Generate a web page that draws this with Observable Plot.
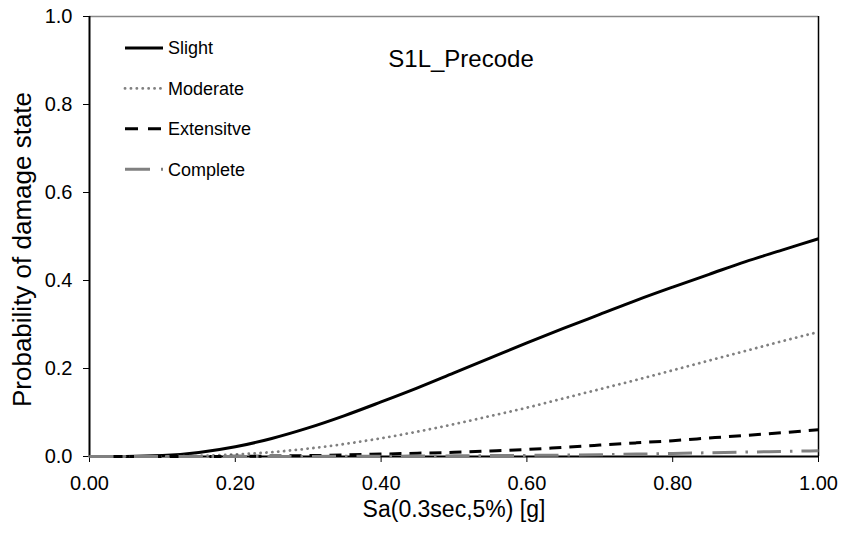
<!DOCTYPE html>
<html>
<head>
<meta charset="utf-8">
<script src="https://cdn.jsdelivr.net/npm/d3@7"></script>
<script src="https://cdn.jsdelivr.net/npm/@observablehq/plot@0.6"></script>
<style>
  html, body { margin: 0; padding: 0; background: #fff; }
  #chart { position: relative; width: 841px; height: 533px; }
  #legend { position: absolute; left: 0; top: 0; pointer-events: none; }
</style>
</head>
<body>
<div id="chart"></div>
<script>
// Spectral acceleration Sa(0.3 s, 5%) in g
const sa = [0, 0.05, 0.10, 0.15, 0.20, 0.25, 0.30, 0.35, 0.40, 0.45, 0.50,
            0.55, 0.60, 0.65, 0.70, 0.75, 0.80, 0.85, 0.90, 0.95, 1.00];

// Probability of reaching each damage state
const slight    = [0, 0.0001, 0.002, 0.009, 0.022, 0.041, 0.065, 0.093, 0.124, 0.156, 0.190,
                   0.224, 0.258, 0.291, 0.323, 0.355, 0.385, 0.414, 0.443, 0.469, 0.495];
const moderate  = [0, 0, 0.0002, 0.0015, 0.0045, 0.010, 0.018, 0.0285, 0.0415, 0.0565, 0.0735,
                   0.092, 0.111, 0.132, 0.153, 0.174, 0.196, 0.218, 0.240, 0.262, 0.283];
const extensive = [0, 0, 0, 0, 0.0004, 0.001, 0.002, 0.0035, 0.0055, 0.0075, 0.0095,
                   0.0125, 0.016, 0.021, 0.026, 0.031, 0.036, 0.042, 0.048, 0.054, 0.061];
const complete  = [0, 0, 0, 0, 0, 0, 0.0002, 0.0004, 0.0007, 0.001, 0.0015,
                   0.002, 0.0025, 0.0032, 0.004, 0.0055, 0.007, 0.0085, 0.010, 0.0115, 0.013];

const seriesNames = ["Slight", "Moderate", "Extensitve", "Complete"];
const seriesValues = [slight, moderate, extensive, complete];

const xTicks = [0, 0.2, 0.4, 0.6, 0.8, 1.0];
const yTicks = [0, 0.2, 0.4, 0.6, 0.8, 1.0];

const chartTitle = "S1L_Precode";
const xTitle = "Sa(0.3sec,5%) [g]";
const yTitle = "Probability of damage state";

// Line styles, one per damage state
const styles = [
  {stroke: "#000000", strokeWidth: 3, strokeDasharray: null, strokeLinecap: "butt"},
  {stroke: "#808080", strokeWidth: 2.8, strokeDasharray: "0.1,5.8", strokeLinecap: "round"},
  {stroke: "#000000", strokeWidth: 3, strokeDasharray: "12,8", strokeLinecap: "butt"},
  {stroke: "#808080", strokeWidth: 3, strokeDasharray: "24,9,2.5,9", strokeLinecap: "butt"}
];

const rows = seriesNames.flatMap((name, i) =>
  sa.map((x, j) => ({name, x, p: seriesValues[i][j]})));

const font = "'Liberation Sans', Arial, Helvetica, sans-serif";

const lineMarks = seriesNames.map((name, i) =>
  Plot.line(rows.filter(d => d.name === name), {
    x: "x", y: "p", curve: "monotone-x",
    stroke: styles[i].stroke,
    strokeWidth: styles[i].strokeWidth,
    strokeDasharray: styles[i].strokeDasharray,
    strokeLinecap: styles[i].strokeLinecap
  }));

const plot = Plot.plot({
  width: 841,
  height: 533,
  marginLeft: 89,
  marginRight: 23,
  marginTop: 16,
  marginBottom: 77,
  style: {fontFamily: font, fontSize: "20px", color: "#000", background: "#fff", overflow: "visible"},
  x: {domain: [0, 1], ticks: xTicks, tickFormat: d3.format(".2f"), tickSize: 6, tickPadding: 13, label: null},
  y: {domain: [0, 1], ticks: yTicks, tickFormat: d3.format(".1f"), tickSize: 6, tickPadding: 11, label: null},
  marks: [
    // plot-area border
    Plot.ruleY([1], {stroke: "#888", strokeWidth: 1.5}),
    Plot.ruleX([1], {stroke: "#000", strokeWidth: 1.5}),
    Plot.ruleX([0], {stroke: "#000", strokeWidth: 2}),
    Plot.ruleY([0], {stroke: "#000", strokeWidth: 2}),
    ...lineMarks,
    Plot.text([chartTitle], {frameAnchor: "top", dx: 7, dy: 43, fontSize: 24, lineAnchor: "middle"}),
    Plot.text([xTitle], {frameAnchor: "bottom", dy: 53, fontSize: 23, lineAnchor: "middle"}),
    Plot.text([yTitle], {frameAnchor: "left", textAnchor: "middle", rotate: -90, dx: -67, dy: 13, fontSize: 26, lineAnchor: "middle"})
  ]
});

const chart = document.getElementById("chart");
chart.appendChild(plot);

// Legend drawn over the upper-left of the plot area
const legend = d3.select(chart).append("svg")
  .attr("id", "legend")
  .attr("width", 260)
  .attr("height", 200);

const legendRows = legend.selectAll("g")
  .data(seriesNames)
  .join("g")
  .attr("transform", (d, i) => `translate(125,${48 + i * 40.4})`);

legendRows.append("line")
  .attr("x1", 0).attr("x2", 38).attr("y1", 0).attr("y2", 0)
  .attr("stroke", (d, i) => styles[i].stroke)
  .attr("stroke-width", (d, i) => styles[i].strokeWidth)
  .attr("stroke-dasharray", (d, i) => i === 2 ? "13,10" : i === 3 ? "25,11,2.5,9" : styles[i].strokeDasharray)
  .attr("stroke-linecap", (d, i) => styles[i].strokeLinecap);

legendRows.append("text")
  .attr("x", 43)
  .attr("y", 0)
  .attr("dy", "0.35em")
  .attr("font-family", font)
  .attr("font-size", 18)
  .attr("fill", "#000")
  .text(d => d);
</script>
</body>
</html>
